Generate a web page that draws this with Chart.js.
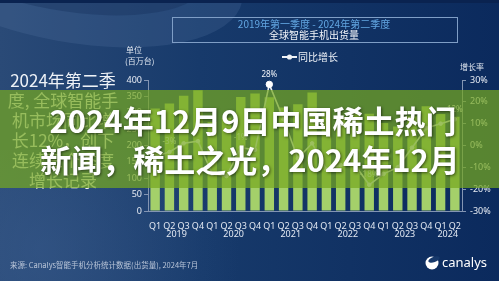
<!DOCTYPE html>
<html><head><meta charset="utf-8">
<script src="https://cdn.jsdelivr.net/npm/chart.js@4.4.1/dist/chart.umd.min.js"></script>
<style>html,body{margin:0;padding:0;background:#0f2d60;overflow:hidden}#c{display:block}</style>
</head><body>
<canvas id="c" width="499" height="281"></canvas>
<script>
// ---- data ----
const quarters = ['Q1','Q2','Q3','Q4','Q1','Q2','Q3','Q4','Q1','Q2','Q3','Q4','Q1','Q2','Q3','Q4','Q1','Q2','Q3','Q4','Q1','Q2'];
const quarterYear = ['2019','2019','2019','2019','2020','2020','2020','2020','2021','2021','2021','2021','2022','2022','2022','2022','2023','2023','2023','2023','2024','2024'];
const years = ['2019','2020','2021','2022','2023','2024'];
const shipments = [313,328,352,369,272,285,348,359,347,316,326,362,311,287,298,297,269,258,289,320,296,288];
const growth = [-5,-3,1,2,-13,-14,-1,-2,28,12,-6,1,-11,-9,-9,-18,-13,-10,-1,8,10,12];
const labelledPoints = [1,6,8,15,21];
const leftTickStep = 50, leftMax = 400;
const rightMin = -30, rightMax = 30, rightStep = 10;
const titleLine1 = '2019年第一季度 - 2024年第二季度';
const titleLine2 = '全球智能手机出货量';
const legendText = '同比增长';
const introLines = ['2024年第二季','度, 全球智能手','机市场同比增','长12%，创下','连续三个季度','增长记录'];
const headline = ['2024年12月9日中国稀土热门','新闻，稀土之光，2024年12月'];
const sourceText = '来源: Canalys智能手机分析统计数据(出货量), 2024年7月';

const CJK = "'Noto Sans CJK SC','Noto Sans',sans-serif";
const LAT = "'Noto Sans','Noto Sans CJK SC',sans-serif";
const axisCol = '#8395b3';

const bgPlugin = {
  id:'bg',
  beforeDraw(chart){
    const ctx = chart.ctx, W = chart.width, H = chart.height;
    ctx.save();
    const g = ctx.createLinearGradient(0,0,W,0);
    g.addColorStop(0,'#2a4a77'); g.addColorStop(0.4,'#173a6b'); g.addColorStop(1,'#0b2a5d');
    ctx.fillStyle = g; ctx.fillRect(0,0,W,H);
    ctx.beginPath(); ctx.ellipse(70,-30,175,72,0.18,0,Math.PI*2);
    ctx.fillStyle='rgba(90,125,170,0.22)'; ctx.fill();
    ctx.beginPath(); ctx.ellipse(60,-45,150,55,0.18,0,Math.PI*2);
    ctx.fillStyle='rgba(20,45,90,0.35)'; ctx.fill();
    const r = ctx.createRadialGradient(40,250,5,40,250,200);
    r.addColorStop(0,'rgba(60,95,145,0.45)'); r.addColorStop(1,'rgba(60,95,145,0)');
    ctx.fillStyle=r; ctx.fillRect(0,150,W,H-150);
    ctx.fillStyle='#0a2350'; ctx.fillRect(0,0,W,3);
    ctx.restore();
  }
};

const decorPlugin = {
  id:'decor',
  afterDraw(chart){
    const ctx = chart.ctx;
    const xs = chart.scales.x, y1 = chart.scales.y1;
    ctx.save();
    ctx.strokeStyle='#7f9ec6'; ctx.lineWidth=1;
    ctx.strokeRect(172.5,17.5,285,25);
    ctx.textAlign='center'; ctx.textBaseline='middle';
    ctx.font="10px "+CJK; ctx.fillStyle='#62a6e2';
    ctx.fillText(titleLine1,314,24);
    ctx.fillStyle='#f2f5fa'; ctx.fillText(titleLine2,314,35);
    ctx.strokeStyle='#f0f3f7'; ctx.lineWidth=2;
    ctx.beginPath(); ctx.moveTo(282,57); ctx.lineTo(297,57); ctx.stroke();
    ctx.beginPath(); ctx.arc(289.5,57,2.6,0,Math.PI*2); ctx.fillStyle='#f0f3f7'; ctx.fill();
    ctx.textAlign='left'; ctx.font="10px "+CJK; ctx.fillStyle='#eef2f8';
    ctx.fillText(legendText,298,57);
    ctx.font="8px "+CJK; ctx.fillStyle='#dfe6f0';
    ctx.fillText('单位',126,50);
    ctx.fillText('(百万台)',125,61);
    ctx.fillText('增长率',460,67);
    ctx.textAlign='center'; ctx.font="9px "+LAT; ctx.fillStyle='#e3e9f3';
    years.forEach(yr=>{
      const idx = quarterYear.map((v,i)=>v===yr?i:-1).filter(i=>i>=0);
      const px = idx.reduce((s,i)=>s+xs.getPixelForValue(i),0)/idx.length;
      ctx.fillText(yr,px,234);
    });
    ctx.font="8px "+LAT; ctx.fillStyle='#f2f5fa';
    labelledPoints.forEach(i=>{
      ctx.fillText(growth[i]+'%', xs.getPixelForValue(i), y1.getPixelForValue(growth[i])-10);
    });
    ctx.font="17px "+CJK; ctx.fillStyle='#eef2f7';
    introLines.forEach((t,i)=>ctx.fillText(t,63,81+i*20));
    ctx.textAlign='left'; ctx.font="7.5px "+CJK; ctx.fillStyle='#b9c5d8';
    ctx.fillText(sourceText,10,265);
    ctx.fillStyle='#ffffff';
    ctx.beginPath(); ctx.arc(432,263,6.5,0,Math.PI*2); ctx.fill();
    ctx.fillStyle='#17396b';
    ctx.beginPath(); ctx.ellipse(434,259.5,6,2.6,-0.35,0,Math.PI*2); ctx.fill();
    ctx.fillStyle='#ffffff'; ctx.font="13px "+LAT; ctx.textBaseline='middle';
    ctx.fillText('canalys',442,263);
    ctx.fillStyle='rgba(118,168,32,0.72)';
    ctx.fillRect(0,90,chart.width,98);
    ctx.textAlign='center'; ctx.textBaseline='middle';
    ctx.font="bold 31px "+CJK;
    ctx.shadowColor='rgba(0,0,0,0.55)'; ctx.shadowBlur=3; ctx.shadowOffsetX=1; ctx.shadowOffsetY=1;
    ctx.fillStyle='#ffffff';
    ctx.fillText(headline[0],253,121);
    ctx.fillText(headline[1],250,160);
    ctx.restore();
  }
};

new Chart(document.getElementById('c'),{
  data:{
    labels: quarters,
    datasets:[
      {type:'line', data:growth, yAxisID:'y1', order:0,
       borderColor:'#eef2f4', borderWidth:1.6, tension:0,
       pointRadius: growth.map((v,i)=>i===8?3.2:1.8), pointBackgroundColor:'#ffffff', pointBorderColor:'#ffffff', pointBorderWidth:1},
      {type:'bar', data:shipments, yAxisID:'y', order:1,
       backgroundColor:'#a4d06a', categoryPercentage:1, barPercentage:0.66}
    ]
  },
  options:{
    responsive:false, animation:false, devicePixelRatio:1,
    layout:{padding:{top:80,left:0,right:0,bottom:0}},
    plugins:{legend:{display:false}, tooltip:{enabled:false}},
    scales:{
      x:{offset:true, grid:{display:false}, border:{color:axisCol,width:1},
         ticks:{color:'#e3e9f3', font:{size:9,family:"'Noto Sans',sans-serif"}, padding:2, maxRotation:0, autoSkip:false},
         afterFit(s){s.height=70;}},
      y:{position:'left', min:0, max:leftMax,
         grid:{drawOnChartArea:false, tickLength:4, color:axisCol}, border:{color:axisCol},
         ticks:{stepSize:leftTickStep, color:'#e6ebf3', font:{size:9,family:"'Noto Sans',sans-serif"}, padding:2},
         afterFit(s){s.width=148;}},
      y1:{position:'right', min:rightMin, max:rightMax,
         grid:{drawOnChartArea:false, tickLength:4, color:axisCol}, border:{color:axisCol},
         ticks:{stepSize:rightStep, color:'#e6ebf3', font:{size:9,family:"'Noto Sans',sans-serif"}, padding:4, callback:v=>v+'%'},
         afterFit(s){s.width=37;}}
    }
  },
  plugins:[bgPlugin, decorPlugin]
});
</script>
</body></html>
